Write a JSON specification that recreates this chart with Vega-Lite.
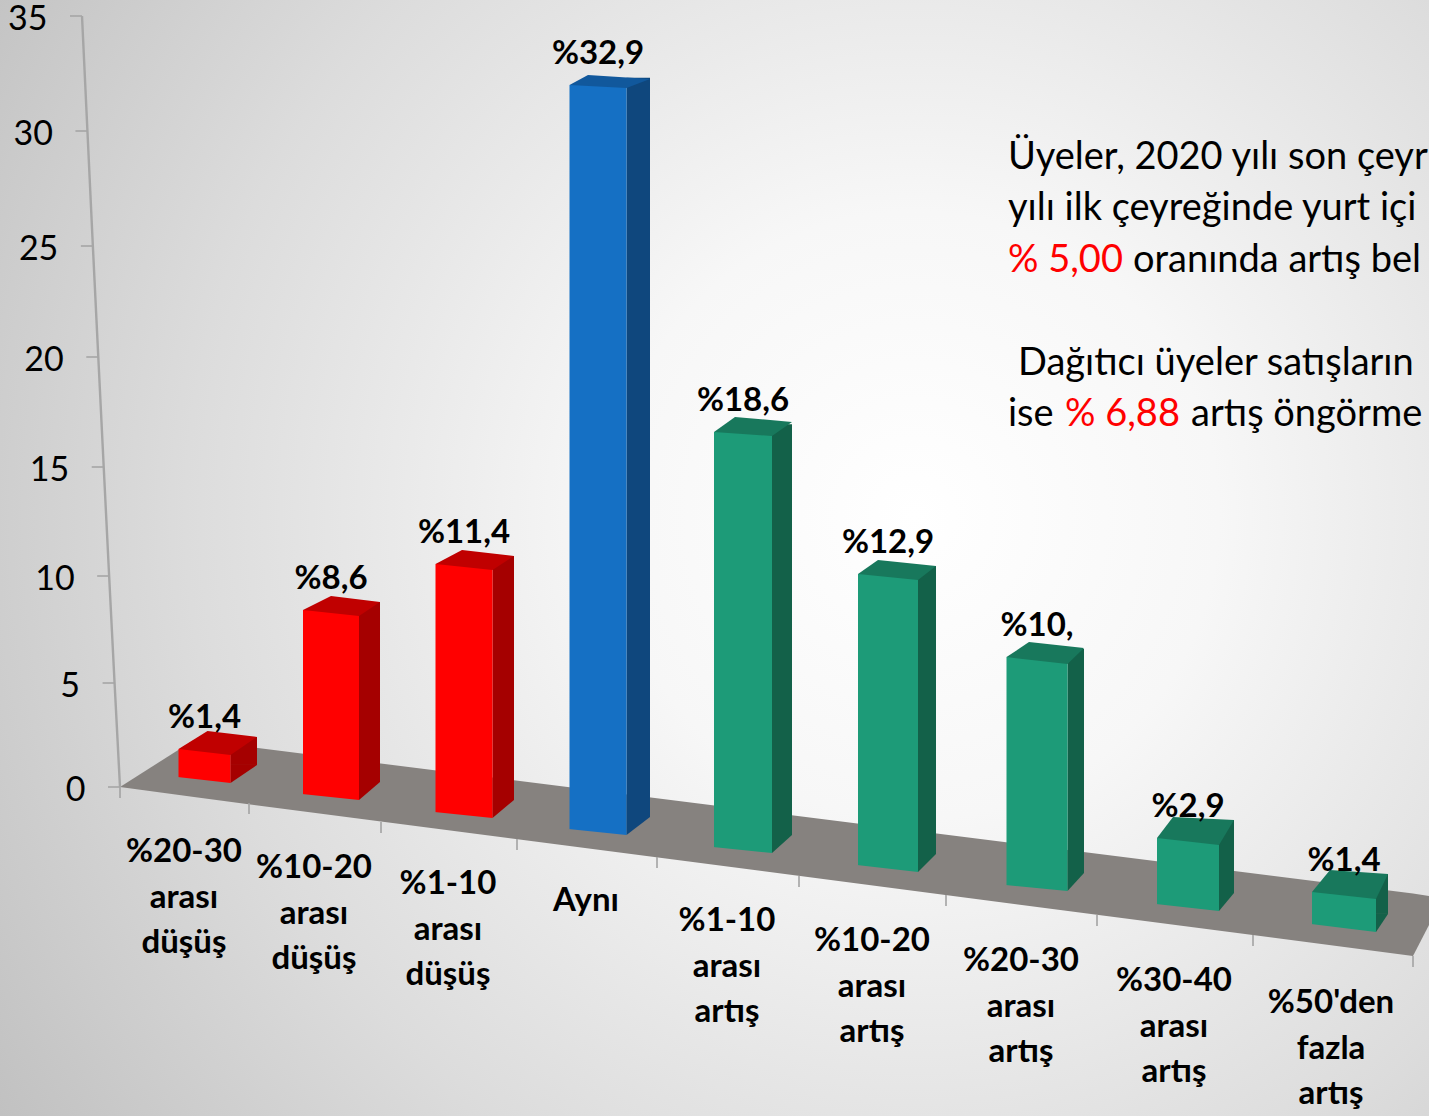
{"$schema":"https://vega.github.io/schema/vega-lite/v6.json","width":1429,"height":1116,"autosize":{"type":"none"},"padding":0,"view":{"stroke":null,"fill":{"gradient":"radial","x1":0.64,"y1":0.47,"r1":0,"x2":0.64,"y2":0.47,"r2":0.85,"stops":[{"offset":0,"color":"#ffffff"},{"offset":0.25,"color":"#f7f7f7"},{"offset":0.6,"color":"#dcdcdc"},{"offset":1,"color":"#b8b8b8"}]}},"datasets":{"cubuklar":[{"kategori":"%20-30\narası\ndüşüş","sira":0,"deger":1.4,"ust":1.7,"taban":0.18,"grup":"düşüş","etiket":"%1,4"},{"kategori":"%10-20\narası\ndüşüş","sira":1,"deger":8.6,"ust":7.9,"taban":-0.58,"grup":"düşüş","etiket":"%8,6"},{"kategori":"%1-10\narası\ndüşüş","sira":2,"deger":11.4,"ust":9.96,"taban":-1.38,"grup":"düşüş","etiket":"%11,4"},{"kategori":"Aynı","sira":3,"deger":32.9,"ust":31.34,"taban":-2.14,"grup":"aynı","etiket":"%32,9"},{"kategori":"%1-10\narası\nartış","sira":4,"deger":18.6,"ust":15.85,"taban":-2.95,"grup":"artış","etiket":"%18,6"},{"kategori":"%10-20\narası\nartış","sira":5,"deger":12.9,"ust":9.51,"taban":-3.79,"grup":"artış","etiket":"%12,9"},{"kategori":"%20-30\narası\nartış","sira":6,"deger":10.1,"ust":5.8,"taban":-4.64,"grup":"artış","etiket":"%10,"},{"kategori":"%30-40\narası\nartış","sira":7,"deger":2.9,"ust":-2.28,"taban":-5.54,"grup":"artış","etiket":"%2,9"},{"kategori":"%50'den\nfazla\nartış","sira":8,"deger":1.4,"ust":-4.69,"taban":-6.47,"grup":"artış","etiket":"%1,4"}],"zemin":[{"adim":0,"on":0,"arka":0},{"adim":1,"on":-0.45,"arka":2.1},{"adim":2,"on":-7.54,"arka":-4.76},{"adim":3,"on":-6.16,"arka":-4.87}],"sinirlar":[{"sinir":0},{"sinir":1},{"sinir":2},{"sinir":3},{"sinir":4},{"sinir":5},{"sinir":6},{"sinir":7},{"sinir":8},{"sinir":9}],"eksen":[{"deger":0},{"deger":5},{"deger":10},{"deger":15},{"deger":20},{"deger":25},{"deger":30},{"deger":35}],"metin":[{"satir":1,"sutun":0,"parca":"Üyeler, 2020 yılı son çeyr","renk":"siyah"},{"satir":2,"sutun":0,"parca":"yılı ilk çeyreğinde yurt içi","renk":"siyah"},{"satir":3,"sutun":0,"parca":"% 5,00","renk":"kirmizi"},{"satir":3,"sutun":3,"parca":"oranında artış bel","renk":"siyah"},{"satir":5,"sutun":1,"parca":"Dağıtıcı üyeler satışların","renk":"siyah"},{"satir":6,"sutun":0,"parca":"ise","renk":"siyah"},{"satir":6,"sutun":2,"parca":"% 6,88","renk":"kirmizi"},{"satir":6,"sutun":4,"parca":"artış öngörme","renk":"siyah"}]},"layer":[{"data":{"name":"zemin"},"mark":{"type":"area","color":"#86827f","line":false,"interpolate":"linear"},"encoding":{"x":{"field":"adim","type":"quantitative","axis":null,"scale":{"domain":[0,1,2,3],"range":[120,194,1413,1429],"nice":false,"zero":false}},"y":{"field":"on","type":"quantitative","stack":null,"axis":null,"scale":{"domain":[0,35],"range":[787,3],"nice":false,"zero":false}},"y2":{"field":"arka"}}},{"data":{"name":"sinirlar"},"mark":{"type":"point","shape":"M0,0L0,11","size":4,"filled":false,"stroke":"#a3a3a3","strokeWidth":1.6,"opacity":1},"encoding":{"x":{"field":"sinir","type":"quantitative","axis":null,"scale":{"domain":[0,1,2,3,4,5,6,7,8,9],"range":[120,249,381,517,657,799,946,1097,1253,1413],"nice":false,"zero":false}},"y":{"field":"sinir","type":"quantitative","axis":null,"scale":{"domain":[0,1,2,3,4,5,6,7,8,9],"range":[787,803,822,839,857,876,895,915,935,956],"nice":false,"zero":false}}}},{"data":{"name":"eksen"},"mark":{"type":"line","color":"#a6a6a6","strokeWidth":2.4},"encoding":{"x":{"field":"deger","type":"quantitative","axis":null,"scale":{"domain":[0,35],"range":[120,82],"nice":false,"zero":false}},"y":{"field":"deger","type":"quantitative","axis":null,"scale":{"domain":[0,5,10,15,20,25,30,35],"range":[787,683,576,467,357,246,131,16],"nice":false,"zero":false}}}},{"data":{"name":"eksen"},"mark":{"type":"point","shape":"M0,0L-12,0","size":4,"filled":false,"stroke":"#a6a6a6","strokeWidth":1.6,"opacity":1},"encoding":{"x":{"field":"deger","type":"quantitative","axis":null,"scale":{"domain":[0,35],"range":[120,82],"nice":false,"zero":false}},"y":{"field":"deger","type":"quantitative","axis":null,"scale":{"domain":[0,5,10,15,20,25,30,35],"range":[787,683,576,467,357,246,131,16],"nice":false,"zero":false}}}},{"data":{"name":"eksen"},"mark":{"type":"text","align":"right","baseline":"middle","dx":-34.5,"dy":3.5,"font":"Lato","fontSize":34,"color":"#000000"},"encoding":{"x":{"field":"deger","type":"quantitative","axis":null,"scale":{"domain":[0,35],"range":[120,82],"nice":false,"zero":false}},"y":{"field":"deger","type":"quantitative","axis":null,"scale":{"domain":[0,5,10,15,20,25,30,35],"range":[787,683,576,467,357,246,131,16],"nice":false,"zero":false}},"text":{"field":"deger","type":"quantitative"}}},{"data":{"name":"cubuklar"},"mark":{"type":"bar"},"encoding":{"x":{"field":"sira","type":"quantitative","axis":null,"scale":{"domain":[0,1,2,3,4,5,6,7,8],"range":[243.75,369.5,503.25,638.25,782,927,1075.75,1226.5,1382],"nice":false,"zero":false,"padding":0}},"y":{"field":"ust","type":"quantitative","axis":null,"scale":{"domain":[-7,0.5,1.7,6,35],"range":[925.8,757.8,737,644.6,-4],"nice":false,"zero":false,"padding":0}},"y2":{"field":"taban"},"size":{"field":"sira","type":"quantitative","legend":null,"scale":{"domain":[0,1,2,3,4,5,6,7,8],"range":[26.5,21,21.5,23.5,20,18,16.5,15,12],"nice":false,"zero":false}},"color":{"field":"grup","type":"nominal","legend":null,"scale":{"domain":["düşüş","aynı","artış"],"range":["#a50000","#0f477d","#136149"]}}}},{"data":{"name":"cubuklar"},"mark":{"type":"point","size":4,"filled":true,"opacity":1,"strokeWidth":0},"encoding":{"x":{"field":"sira","type":"quantitative","axis":null,"scale":{"domain":[0,1,2,3,4,5,6,7,8],"range":[204.5,331,464,598,743,888,1037,1188,1344],"nice":false,"zero":false}},"y":{"field":"taban","type":"quantitative","axis":null,"scale":{"domain":[0,35],"range":[787,3],"nice":false,"zero":false}},"shape":{"field":"sira","type":"nominal","legend":null,"scale":{"domain":[0,1,2,3,4,5,6,7,8],"range":["M26,0L52.5,-18L26,-18Z","M28,0L49,-18L28,-18Z","M28.5,0L50,-18L28.5,-18Z","M28.5,0L52,-18L28.5,-18Z","M29,0L49,-18L29,-18Z","M30,0L48,-18L30,-18Z","M30.5,0L47,-18L30.5,-18Z","M31,0L46,-18L31,-18Z","M32,0L44,-18L32,-18Z"]}},"color":{"field":"grup","type":"nominal","legend":null,"scale":{"domain":["düşüş","aynı","artış"],"range":["#a50000","#0f477d","#136149"]}}}},{"data":{"name":"cubuklar"},"mark":{"type":"bar"},"encoding":{"x":{"field":"sira","type":"quantitative","axis":null,"scale":{"domain":[0,1,2,3,4,5,6,7,8],"range":[204.5,331,464,598,743,888,1037,1188,1344],"nice":false,"zero":false,"padding":0}},"y":{"field":"ust","type":"quantitative","axis":null,"scale":{"domain":[0,35],"range":[787,3],"nice":false,"zero":false,"padding":0}},"y2":{"field":"taban"},"size":{"field":"sira","type":"quantitative","legend":null,"scale":{"domain":[0,1,2,3,4,5,6,7,8],"range":[52,56,57,57,58,60,61,62,64],"nice":false,"zero":false}},"color":{"field":"grup","type":"nominal","legend":null,"scale":{"domain":["düşüş","aynı","artış"],"range":["#ff0000","#1570c4","#1d9b78"]}}}},{"data":{"name":"cubuklar"},"mark":{"type":"point","size":4,"filled":true,"opacity":1,"strokeWidth":0},"encoding":{"x":{"field":"sira","type":"quantitative","axis":null,"scale":{"domain":[0,1,2,3,4,5,6,7,8],"range":[204.5,331,464,598,743,888,1037,1188,1344],"nice":false,"zero":false}},"y":{"field":"ust","type":"quantitative","axis":null,"scale":{"domain":[0,35],"range":[787,3],"nice":false,"zero":false}},"shape":{"field":"sira","type":"nominal","legend":null,"scale":{"domain":[0,1,2,3,4,5,6,7,8],"range":["M-26,0L26,6L52.5,-12L3,-18Z","M-28,0L28,6L49,-8L0,-14Z","M-28.5,0L28.5,6L50,-8L-2,-14Z","M-28.5,0L28.5,3L52,-6L-10,-10Z","M-29,0L29,4L49,-10L-8,-15Z","M-30,0L30,6L48,-8L-10,-14Z","M-30.5,0L30.5,7L47,-9L-8,-15Z","M-31,0L31,7L46,-18L-15,-21Z","M-32,0L32,7L44,-18L-14,-22Z"]}},"color":{"field":"grup","type":"nominal","legend":null,"scale":{"domain":["düşüş","aynı","artış"],"range":["#c00000","#11589c","#18785c"]}}}},{"data":{"name":"cubuklar"},"mark":{"type":"point","size":4,"filled":true,"opacity":1,"strokeWidth":0,"color":"#86827f"},"encoding":{"x":{"field":"sira","type":"quantitative","axis":null,"scale":{"domain":[0,1,2,3,4,5,6,7,8],"range":[204.5,331,464,598,743,888,1037,1188,1344],"nice":false,"zero":false}},"y":{"field":"taban","type":"quantitative","axis":null,"scale":{"domain":[0,35],"range":[787,3],"nice":false,"zero":false}},"shape":{"field":"sira","type":"nominal","legend":null,"scale":{"domain":[0,1,2,3,4,5,6,7,8],"range":["M-27,-6L26,0L26,1L-27,1Z","M-29,-6L28,0L28,1L-29,1Z","M-29.5,-6L28.5,0L28.5,1L-29.5,1Z","M-29.5,-6L28.5,0L28.5,1L-29.5,1Z","M-30,-6L29,0L29,1L-30,1Z","M-31,-7L30,0L30,1L-31,1Z","M-31.5,-6L30.5,0L30.5,1L-31.5,1Z","M-32,-7L31,0L31,1L-32,1Z","M-33,-8L32,0L32,1L-33,1Z"]}}}},{"data":{"name":"cubuklar"},"mark":{"type":"text","font":"Lato","fontWeight":"bold","fontSize":33,"baseline":"middle","dy":-31,"color":"#000000"},"encoding":{"x":{"field":"sira","type":"quantitative","axis":null,"scale":{"domain":[0,1,2,3,4,5,6,7,8],"range":[204.5,331,464,598,743,888,1037,1188,1344],"nice":false,"zero":false}},"y":{"field":"ust","type":"quantitative","axis":null,"scale":{"domain":[0,35],"range":[787,3],"nice":false,"zero":false}},"text":{"field":"etiket"}}},{"data":{"name":"cubuklar"},"mark":{"type":"text","font":"Lato","fontWeight":"bold","fontSize":33,"baseline":"top","align":"center","lineBreak":"\n","lineHeight":45.5,"color":"#000000"},"encoding":{"x":{"field":"sira","type":"quantitative","axis":null,"scale":{"domain":[0,1,2,3,4,5,6,7,8],"range":[184,314,448,586,727,872,1021,1174,1331],"nice":false,"zero":false}},"y":{"field":"sira","type":"quantitative","axis":null,"scale":{"domain":[0,1,2,3,4,5,6,7,8],"range":[836,852,868,885,905,925,945,965,987],"nice":false,"zero":false}},"text":{"field":"kategori"}}},{"data":{"name":"metin"},"mark":{"type":"text","font":"Lato","fontSize":38,"baseline":"middle","align":"left"},"encoding":{"x":{"field":"sutun","type":"quantitative","axis":null,"scale":{"domain":[0,1,2,3,4],"range":[1008,1018,1065,1133,1191],"nice":false,"zero":false}},"y":{"field":"satir","type":"quantitative","axis":null,"scale":{"domain":[1,6],"range":[158,415],"nice":false,"zero":false}},"text":{"field":"parca"},"color":{"field":"renk","type":"nominal","legend":null,"scale":{"domain":["siyah","kirmizi"],"range":["#000000","#ff0000"]}}}}],"resolve":{"scale":{"x":"independent","y":"independent","shape":"independent","color":"independent","size":"independent"}}}
